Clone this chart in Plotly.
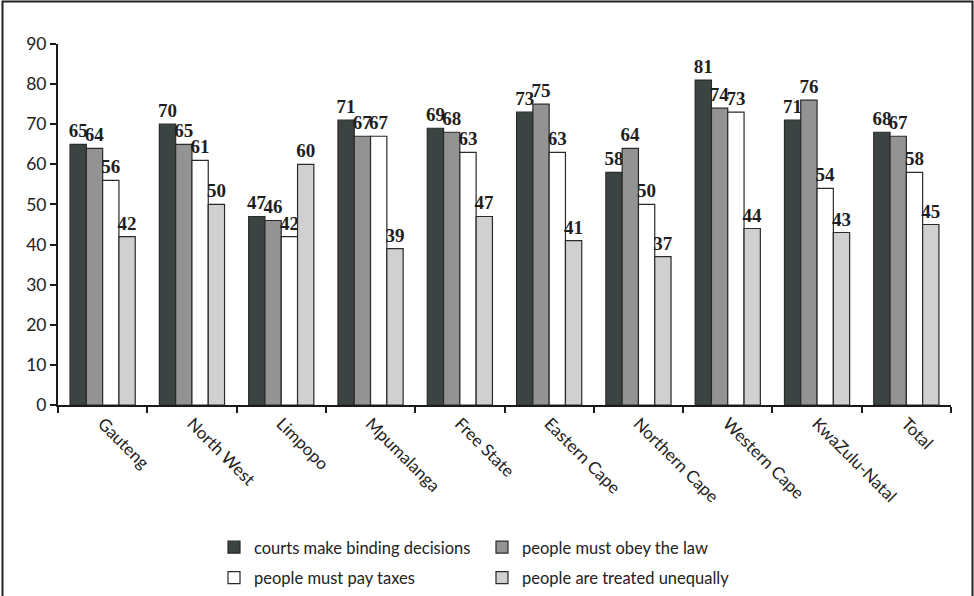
import plotly.graph_objects as go

# Provinces on the category axis
provinces = ["Gauteng", "North West", "Limpopo", "Mpumalanga", "Free State",
             "Eastern Cape", "Northern Cape", "Western Cape", "KwaZulu-Natal", "Total"]

# Percentage agreeing with each statement, per province
courts_binding = [65, 70, 47, 71, 69, 73, 58, 81, 71, 68]
obey_law = [64, 65, 46, 67, 68, 75, 64, 74, 76, 67]
pay_taxes = [56, 61, 42, 67, 63, 63, 50, 73, 54, 58]
treated_unequally = [42, 50, 60, 39, 47, 41, 37, 44, 43, 45]

series_names = ["courts make binding decisions", "people must obey the law",
                "people must pay taxes", "people are treated unequally"]
series_values = [courts_binding, obey_law, pay_taxes, treated_unequally]
series_colors = ["#3b4442", "#939393", "#ffffff", "#d0d0d0"]
series_legends = ["legend", "legend2", "legend", "legend2"]

W, H = 974, 596
L, R, T, B = 58, 23, 44, 191

fig = go.Figure()
for name, vals, color, lg in zip(series_names, series_values, series_colors, series_legends):
    fig.add_trace(go.Bar(
        x=provinces, y=vals, name=name,
        marker=dict(color=color, line=dict(color="#2a2a2a", width=1.2)),
        text=[str(v) for v in vals],
        textposition="outside",
        textangle=0,
        constraintext="none",
        cliponaxis=False,
        textfont=dict(family="Liberation Serif", size=19, color="#1e1e1e", weight="bold"),
        legend=lg,
        legendgroup=name,
    ))

pw = W - L - R
ph = H - T - B


def px_x(p):
    return (p - L) / pw


def px_y(p):
    return (H - B - p) / ph


legend_font = dict(family="Lato", size=16.5, color="#222222")

fig.update_layout(
    width=W, height=H,
    margin=dict(l=L, r=R, t=T, b=B, autoexpand=False),
    paper_bgcolor="white", plot_bgcolor="white",
    barmode="group", bargap=0.27, bargroupgap=0,
    showlegend=True,
    legend=dict(x=px_x(214), y=px_y(530), xanchor="left", yanchor="top",
                font=legend_font, tracegroupgap=6, bgcolor="rgba(0,0,0,0)"),
    legend2=dict(x=px_x(482), y=px_y(530), xanchor="left", yanchor="top",
                 font=legend_font, tracegroupgap=6, bgcolor="rgba(0,0,0,0)"),
    xaxis=dict(
        type="category", tickangle=45, automargin=False,
        showline=True, linecolor="#1a1a1a", linewidth=2,
        ticks="outside", tickson="boundaries", ticklen=6, tickwidth=2, tickcolor="#1a1a1a",
        tickfont=dict(family="Lato", size=17, color="#222222"),
        showgrid=False, zeroline=False,
    ),
    yaxis=dict(
        range=[0, 90], dtick=10, automargin=False,
        showline=True, linecolor="#1a1a1a", linewidth=2,
        ticks="outside", ticklen=6, tickwidth=2, tickcolor="#1a1a1a",
        tickfont=dict(family="Lato", size=17.5, color="#222222"),
        showgrid=False, zeroline=False,
    ),
    shapes=[dict(
        type="rect", xref="paper", yref="paper",
        x0=px_x(2.5), x1=px_x(972.5), y0=px_y(600), y1=px_y(1.5),
        line=dict(color="#222222", width=2), fillcolor="rgba(0,0,0,0)", layer="above",
    )],
)

fig.write_html("out.html")
